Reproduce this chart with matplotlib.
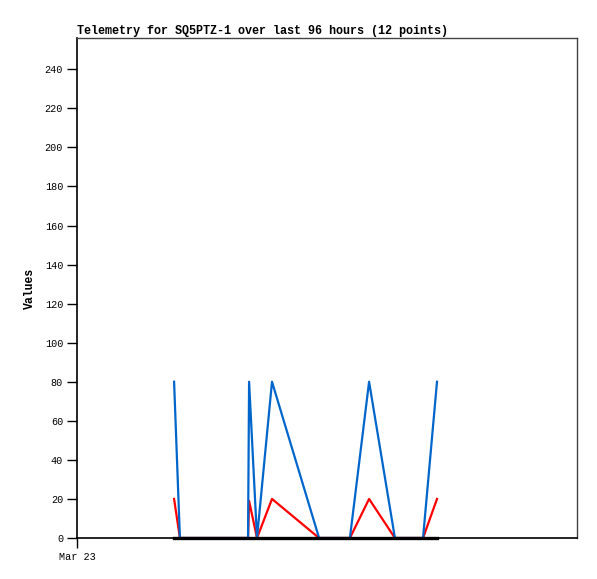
import matplotlib
matplotlib.use("Agg")
import matplotlib.pyplot as plt
import matplotlib.dates as mdates
from datetime import datetime, timedelta

title = "Telemetry for SQ5PTZ-1 over last 96 hours (12 points)"
ylabel = "Values"
start = datetime(2024, 3, 23, 0, 0)
# hours after Mar 23 00:00
hours = [4.66, 4.94, 8.21, 8.26, 8.64, 9.36, 11.62, 13.10, 14.02, 15.26, 16.61, 17.28]
blue_vals = [80, 0, 0, 80, 0, 80, 0, 0, 80, 0, 0, 80]
red_vals = [20, 0, 0, 19, 0, 20, 0, 0, 20, 0, 0, 20]
black_vals = [0, 0, 0, 0, 0, 0, 0, 0, 0, 0, 0, 0]
yticks = list(range(0, 241, 20))

times = [start + timedelta(hours=h) for h in hours]

plt.rcParams['font.family'] = ['Liberation Mono', 'DejaVu Sans Mono']
fig = plt.figure(figsize=(5.97, 5.79), dpi=100)
ax = fig.add_axes([77/597, 41/579, 500/597, 500/579])

ax.plot(times, red_vals, color='#ff0000', lw=1.6, zorder=2)
ax.plot(times, blue_vals, color='#0066cc', lw=1.6, zorder=3)
ax.plot(times, black_vals, color='black', lw=2.4, zorder=4, clip_on=False)

ax.set_ylim(0, 256)
ax.set_yticks(yticks)
ax.set_xlim(start, start + timedelta(hours=24))
ax.set_xticks([start])
ax.xaxis.set_major_formatter(mdates.DateFormatter('%b %d'))
ax.tick_params(axis='both', direction='out', length=7, width=1, labelsize=7.3, colors='black')
ax.tick_params(axis='y', pad=3)
ax.tick_params(axis='x', pad=3)

for s in ['left', 'bottom']:
    ax.spines[s].set_color('black')
    ax.spines[s].set_linewidth(1.2)
for s in ['top', 'right']:
    ax.spines[s].set_color('#444444')
    ax.spines[s].set_linewidth(1.0)

ax.set_title(title, loc='left', fontsize=8.45, fontweight='bold', pad=3)
ax.set_ylabel(ylabel, fontsize=8.3, fontweight='bold', labelpad=6)

fig.savefig('out.png', dpi=100)
